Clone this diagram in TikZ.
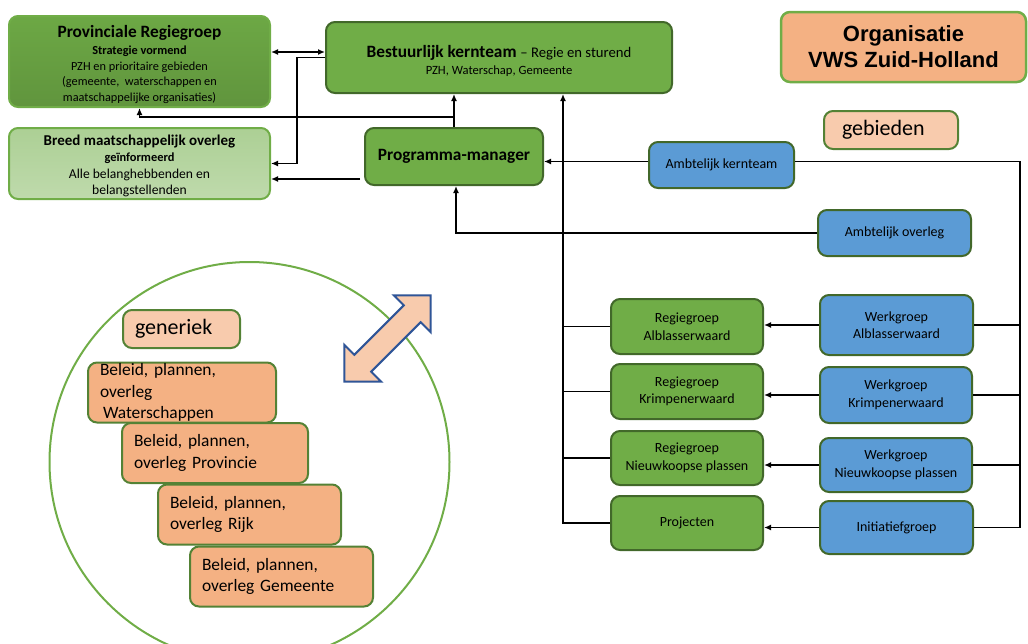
\documentclass[tikz,border=0pt]{standalone}
\usepackage{fontspec}
\setmainfont{Carlito}
\newfontfamily\arialfont{Liberation Sans}
\usepgflibrary{arrows}
\usetikzlibrary{arrows.meta}
\usetikzlibrary{calc}
\definecolor{vwsgreen}{HTML}{70AD47}
\definecolor{vwsdark}{HTML}{42682A}
\definecolor{vwsmid}{HTML}{548235}
\definecolor{vwsblue}{HTML}{5B9BD5}
\definecolor{vwsorange}{HTML}{F4B183}
\definecolor{vwspeach}{HTML}{F8CBAD}
\definecolor{vwsarrow}{HTML}{2F5597}

\begin{document}
\begin{tikzpicture}[x=1pt,y=-1pt,>={Latex[length=7pt,width=6pt]},
  box/.style={rounded corners=9pt, line width=2pt, inner sep=0pt, align=center},
  regie/.style={box, fill=vwsgreen, draw=vwsdark, font=\fontsize{14}{17.5}\selectfont},
  werk/.style={box, fill=vwsblue, draw=vwsdark, font=\fontsize{14}{17.5}\selectfont},
  beleid/.style={box, fill=vwsorange, draw=vwsmid, align=left, inner xsep=12pt,
    minimum height=60pt, font=\fontsize{17.4}{21.5}\selectfont},
  kop/.style={box, fill=vwspeach, draw=vwsmid, align=left, minimum height=38pt,
    font=\fontsize{22}{24}\selectfont},
  conn/.style={line width=1.6pt}]

\useasboundingbox (0,0) rectangle (1028,643);

\draw[vwsgreen, line width=2pt] (249.5,462) circle[radius=200pt];

\node[box, draw=vwsgreen, top color=vwsgreen!97!black, bottom color=vwsgreen!86!black,
  minimum width=261pt, minimum height=91pt, font=\fontsize{12.3}{15.5}\selectfont]
  (prov) at (139.5,61.5)
  {\rule{0pt}{18pt}{\fontsize{17.3}{15.5}\selectfont\bfseries Provinciale Regiegroep}\\[1.5pt]
   \textbf{Strategie vormend}\\ PZH en prioritaire gebieden\\
   (gemeente,\ \ waterschappen en\\ maatschappelijke organisaties)};
\node[box, draw=vwsgreen, top color=vwsgreen!58!white, bottom color=vwsgreen!45!white,
  minimum width=261pt, minimum height=71pt, font=\fontsize{13.6}{16.5}\selectfont]
  (breed) at (139.5,163.5)
  {\rule{0pt}{15pt}{\fontsize{15}{16.5}\selectfont\bfseries Breed maatschappelijk overleg}\\
   {\fontsize{12.4}{16.5}\selectfont\bfseries ge\"informeerd}\\
   Alle belanghebbenden en\\ belangstellenden};
\node[regie, minimum width=346pt, minimum height=71pt, font=\fontsize{12.6}{17}\selectfont]
  (kern) at (499,57.5)
  {\rule{0pt}{20pt}{\fontsize{17.3}{17}\selectfont\textbf{Bestuurlijk kernteam}
   {\fontsize{14.7}{17}\selectfont --~Regie en sturend}}\\ PZH, Waterschap, Gemeente};
\node[regie, minimum width=178pt, minimum height=57pt, font=\fontsize{17.3}{19}\selectfont\bfseries]
  (pm) at (454,156.5) {Programma-manager};

\node[box, fill=vwsorange, draw=vwsgreen, line width=2.5pt, minimum width=245pt,
  minimum height=70pt, font=\arialfont\bfseries\fontsize{22}{26}\selectfont]
  (org) at (903.5,47) {Organisatie\\VWS Zuid-Holland};
\node[kop, inner xsep=18pt, text width=98pt] (gebied) at (891,130) {gebieden};

\node[werk, minimum width=145pt, minimum height=46pt] (akern) at (721.5,165) {Ambtelijk kernteam};
\node[werk, minimum width=153pt, minimum height=46pt] (aover) at (894.5,233) {Ambtelijk overleg};

\node[regie, minimum width=152pt, minimum height=55pt] (rA) at (687,326.5) {Regiegroep\\Alblasserwaard};
\node[regie, minimum width=152pt, minimum height=55pt] (rK) at (687,391.5) {Regiegroep\\Krimpenerwaard};
\node[regie, minimum width=152pt, minimum height=54pt] (rN) at (687,458) {Regiegroep\\Nieuwkoopse plassen};
\node[regie, minimum width=152pt, minimum height=54pt] (proj) at (687,523) {Projecten};

\node[werk, minimum width=153pt, minimum height=60pt] (wA) at (896.5,325) {Werkgroep\\Alblasserwaard};
\node[werk, minimum width=152pt, minimum height=56pt] (wK) at (896,395) {Werkgroep\\Krimpenerwaard};
\node[werk, minimum width=152pt, minimum height=54pt] (wN) at (896,465) {Werkgroep\\Nieuwkoopse plassen};
\node[werk, minimum width=153pt, minimum height=53pt] (init) at (896.5,527.5) {Initiatiefgroep};

\node[kop, inner xsep=12pt, text width=93pt] (gener) at (181.5,329) {generiek};
\node[beleid, text width=164pt] (bW) at (182,392.5)
  {Beleid, plannen,\\ overleg\\ \hspace*{3pt}Waterschappen};
\node[beleid, text width=162pt] (bP) at (215,453) {Beleid, plannen,\\ overleg Provincie};
\node[beleid, text width=159pt] (bR) at (249.5,514.5) {Beleid, plannen,\\ overleg Rijk};
\node[beleid, text width=159pt] (bG) at (281.5,576.5) {Beleid, plannen,\\ overleg Gemeente};

\draw[vwsarrow, fill=vwspeach, line width=2pt, line join=miter]
  (430.6,295.4) -- (430.6,332.1) -- (420.7,322.2) -- (371.2,371.7) -- (381.1,381.6)
  -- (344.4,381.6) -- (344.4,344.9) -- (354.3,354.8) -- (403.8,305.3) -- (393.9,295.4) -- cycle;

\begin{scope}[conn,->]
\draw[<->] ([yshift=9.5pt]prov.east) coordinate (pk) -- (pk -| kern.west);
\draw (kern.west) -- ++(-28,0) |- (breed.east);
\draw (pm.north) -- (kern.south -| pm.north);
\draw ([yshift=10pt]pm.north) -| (prov.south);
\draw ([xshift=-4pt,yshift=-22.5pt]pm.west) coordinate (pb) -- (pb -| breed.east);
\draw ([yshift=3.5pt]akern.west) coordinate (ak) -- (ak -| pm.east);
\draw (aover.west) -| ([xshift=2pt]pm.south);
\draw (proj.west) -- ++(-47,0) coordinate (lb) -- (lb |- kern.south);
\draw (wA.west) -- (wA.west -| rA.east);
\draw (wK.west) -- (wK.west -| rK.east);
\draw (wN.west) -- (wN.west -| rN.east);
\draw (init.west) -- (init.west -| proj.east);
\end{scope}

\begin{scope}[conn]
\draw (rA.west) -- (rA.west -| lb);
\draw (rK.west) -- (rK.west -| lb);
\draw (rN.west) -- (rN.west -| lb);
\draw ([yshift=3.5pt]akern.east) -- ++(225,0) coordinate (rb) |- (init.east);
\draw (wA.east) -- (wA.east -| rb);
\draw (wK.east) -- (wK.east -| rb);
\draw (wN.east) -- (wN.east -| rb);
\end{scope}
\end{tikzpicture}
\end{document}
